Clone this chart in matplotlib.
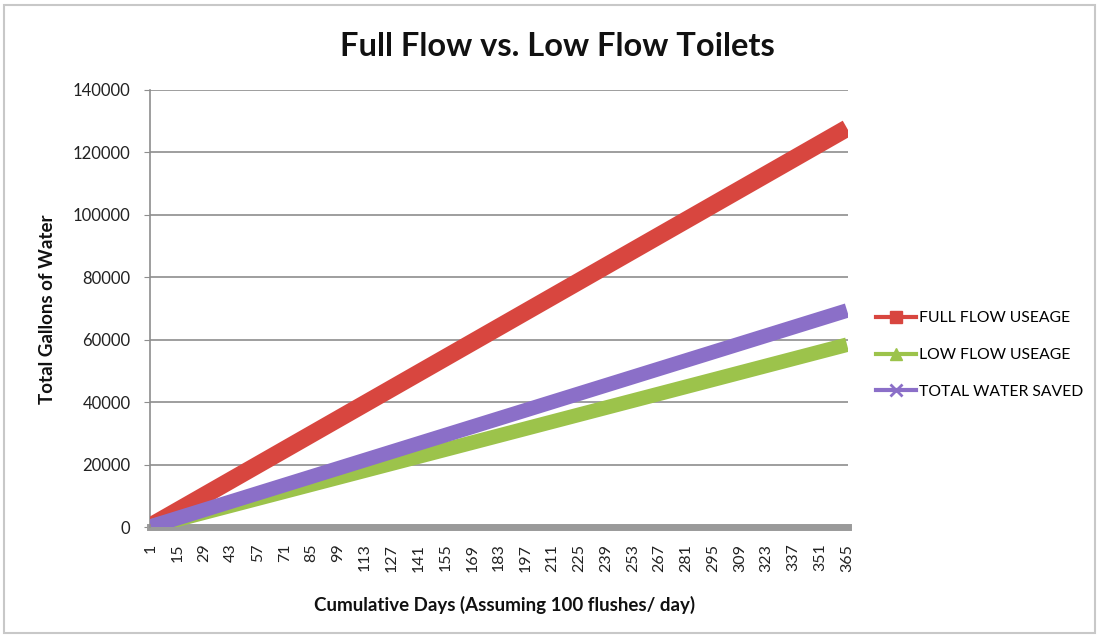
import matplotlib
matplotlib.use('Agg')
import matplotlib.pyplot as plt
from matplotlib.lines import Line2D
from matplotlib.patches import Rectangle

# ---- data (values at the labelled days) ----
days = [1, 15, 29, 43, 57, 71, 85, 99, 113, 127, 141, 155, 169, 183, 197,
        211, 225, 239, 253, 267, 281, 295, 309, 323, 337, 351, 365]
full_flow = [350, 5250, 10150, 15050, 19950, 24850, 29750, 34650, 39550,
             44450, 49350, 54250, 59150, 64050, 68950, 73850, 78750, 83650,
             88550, 93450, 98350, 103250, 108150, 113050, 117950, 122850, 127750]
low_flow = [160, 2400, 4640, 6880, 9120, 11360, 13600, 15840, 18080, 20320,
            22560, 24800, 27040, 29280, 31520, 33760, 36000, 38240, 40480,
            42720, 44960, 47200, 49440, 51680, 53920, 56160, 58400]
water_saved = [190, 2850, 5510, 8170, 10830, 13490, 16150, 18810, 21470,
               24130, 26790, 29450, 32110, 34770, 37430, 40090, 42750, 45410,
               48070, 50730, 53390, 56050, 58710, 61370, 64030, 66690, 69350]
tick_labels = [str(d) for d in days]
series_names = ["FULL FLOW USEAGE", "LOW FLOW USEAGE", "TOTAL WATER SAVED"]
y_ticks = [0, 20000, 40000, 60000, 80000, 100000, 120000, 140000]

RED = '#d8463f'
GREEN = '#9cc34b'
PURPLE = '#8b6fc8'
GRID = '#8e8e8e'

plt.rcParams['font.family'] = ['Lato', 'DejaVu Sans']

fig = plt.figure(figsize=(10.99, 6.37), dpi=100)
fig.patches.append(Rectangle((0.004, 0.006), 0.992, 0.986, transform=fig.transFigure,
                             fill=False, edgecolor='#c8c8c8', lw=1.5))

ax = fig.add_axes([150/1099, 1-527/637, 698/1099, 437/637])

ax.plot(days, full_flow, color=RED, lw=12.5, solid_capstyle='butt', zorder=3)
ax.plot(days, low_flow, color=GREEN, lw=10.5, solid_capstyle='butt', zorder=3)
ax.plot(days, water_saved, color=PURPLE, lw=10.5, solid_capstyle='butt', zorder=4)

ax.set_xlim(0.5, 365.5)
ax.set_ylim(0, 140000)
ax.set_yticks(y_ticks)
ax.set_yticklabels([str(v) for v in y_ticks], fontsize=12, color='#222222')
ax.set_xticks(days)
ax.set_xticklabels(tick_labels, rotation=90, fontsize=11.5, color='#222222',
                   va='top')

ax.grid(axis='y', color=GRID, lw=1.2)
ax.set_axisbelow(True)
for s in ['top', 'right']:
    ax.spines[s].set_visible(False)
ax.spines['left'].set_color(GRID)
ax.spines['left'].set_linewidth(1.2)
ax.spines['bottom'].set_color('#9a9a9a')
ax.spines['bottom'].set_linewidth(5)
ax.spines['bottom'].set_zorder(2)
ax.tick_params(axis='x', length=0, pad=12)
ax.tick_params(axis='y', length=4, color=GRID, pad=10)

fig.text(0.507, 0.927, "Full Flow vs. Low Flow Toilets", ha='center', va='center',
         fontsize=23.5, fontweight='bold', color='#111111')
fig.text(0.459, 0.05, "Cumulative Days (Assuming 100 flushes/ day)", ha='center',
         va='center', fontsize=13.5, fontweight='bold', color='#111111')
fig.text(0.043, 0.515, "Total Gallons of Water", ha='center', va='center',
         rotation=90, fontsize=13.5, fontweight='bold', color='#111111')

handles = [
    Line2D([], [], color=RED, lw=3, marker='s', ms=8),
    Line2D([], [], color=GREEN, lw=3, marker='^', ms=8),
    Line2D([], [], color=PURPLE, lw=3, marker='x', ms=8, mew=2),
]
fig.legend(handles, series_names, loc='center left',
           bbox_to_anchor=(870/1099, 1-355/637), frameon=False,
           fontsize=11.3, handlelength=2.5, handletextpad=0.2,
           labelspacing=1.45, borderaxespad=0)

fig.savefig('out.png', dpi=100)
